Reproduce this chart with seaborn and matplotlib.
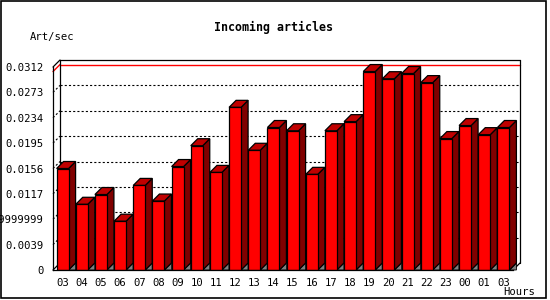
import numpy as np
import pandas as pd
import matplotlib
matplotlib.use("Agg")
import matplotlib.pyplot as plt
from matplotlib.patches import Polygon, Rectangle
from matplotlib.lines import Line2D
import seaborn as sns

# ---- data ----
hours = ["03", "04", "05", "06", "07", "08", "09", "10", "11", "12", "13", "14",
         "15", "16", "17", "18", "19", "20", "21", "22", "23", "00", "01", "03"]
art_per_sec = [0.0156, 0.0101, 0.0116, 0.0075, 0.0130, 0.0106, 0.0159, 0.0191,
               0.0150, 0.0250, 0.0184, 0.0219, 0.0214, 0.0147, 0.0214, 0.0228,
               0.0305, 0.0294, 0.0302, 0.0288, 0.0202, 0.0222, 0.0208, 0.0219]
y_ticks = [0, 0.0039, 0.0078, 0.0117, 0.0156, 0.0195, 0.0234, 0.0273, 0.0312]
y_tick_labels = ["0", "0.0039", "0.00779999999", "0.0117", "0.0156", "0.0195",
                 "0.0234", "0.0273", "0.0312"]
title = "Incoming articles"
y_label = "Art/sec"
x_label = "Hours"

sns.set_style("white")
plt.rcParams["font.family"] = ["DejaVu Sans Mono"]

W, H = 550, 300
fig = plt.figure(figsize=(W / 100, H / 100), dpi=100)
fig.patch.set_facecolor("white")

# front plot rectangle in pixels
L, R, B, T = 53, 513, 270, 67
ax = fig.add_axes([L / W, 1 - B / H, (R - L) / W, (B - T) / H])
ax.set_facecolor("none")

n = len(hours)
ymax = y_ticks[-1]
sx = n / (R - L)          # data units per pixel (x)
sy = ymax / (B - T)       # data units per pixel (y)
DEP = 7
dx, dy = DEP * sx, DEP * sy

df = pd.DataFrame({"slot": list(range(n)), "rate": art_per_sec})
sns.barplot(data=df, x="slot", y="rate", color="#FF0000", saturation=1,
            width=12 / 19.17, edgecolor="black", linewidth=0.9, ax=ax, zorder=5)

ax.set_xlim(-0.5, n - 0.5)
ax.set_ylim(0, ymax)

# 3D decorations derived from the bar patches
for p in list(ax.patches):
    x0, w, h = p.get_x(), p.get_width(), p.get_height()
    x1 = x0 + w
    floor = Polygon([(x1, 0), (x1 + dx, dy), (x1 + dx, 0)], closed=True,
                    facecolor="#808080", edgecolor="black", lw=0.6, zorder=4)
    side = Polygon([(x1, 0), (x1 + dx, dy), (x1 + dx, h + dy), (x1, h)], closed=True,
                   facecolor="#800000", edgecolor="black", lw=0.9, zorder=4)
    top = Polygon([(x0, h), (x0 + dx, h + dy), (x1 + dx, h + dy), (x1, h)], closed=True,
                  facecolor="#C00000", edgecolor="black", lw=0.9, zorder=4)
    for poly in (floor, side, top):
        poly.set_clip_on(False)
        ax.add_patch(poly)

xl, xr = -0.5, n - 0.5
def seg(xs, ys, **kw):
    ln = Line2D(xs, ys, clip_on=False, **kw)
    ax.add_line(ln)

# back wall gridlines (dotted) and left wall diagonals
dot = (0, (1.9, 1.9))
for v in y_ticks[1:-1]:
    seg([xl + dx, xr + dx], [v + dy, v + dy], color="black", lw=0.8,
        linestyle=dot, zorder=1)
    seg([xl, xl + dx], [v, v + dy], color="black", lw=0.8,
        linestyle=dot, zorder=1)

# max line in red
mx = max(art_per_sec)
seg([xl + dx, xr + dx], [mx + dy, mx + dy], color="#FF0000", lw=1.0, zorder=2)
seg([xl, xl + dx], [mx, mx + dy], color="#FF0000", lw=1.0, zorder=2)

# back wall frame
k = dict(color="black", lw=0.9, zorder=3)
seg([xl + dx, xr + dx], [ymax + dy, ymax + dy], **k)
seg([xl + dx, xl + dx], [dy, ymax + dy], **k)
seg([xr + dx, xr + dx], [dy, ymax + dy], **k)
seg([xl, xl + dx], [ymax, ymax + dy], **k)
seg([xr, xr + dx], [0, dy], **k)
seg([xl, xl + dx], [0, dy], **k)

# spines & ticks
for s in ("top", "right"):
    ax.spines[s].set_visible(False)
for s in ("left", "bottom"):
    ax.spines[s].set_color("black")
    ax.spines[s].set_linewidth(0.9)
    ax.spines[s].set_zorder(6)

ax.set_yticks(y_ticks, labels=y_tick_labels)
ax.set_xticks(range(n), labels=hours)
ax.set_xticks(np.arange(-0.5, n, 1.0), minor=True)
ax.tick_params(axis="x", which="major", length=0, pad=6, labelsize=7.6, colors="black")
ax.tick_params(axis="x", which="minor", length=3, width=0.8, direction="out", color="black")
ax.tick_params(axis="y", which="major", length=3, width=0.8, direction="out",
               pad=4, labelsize=7.6, colors="black")
ax.set_xlabel("")
ax.set_ylabel("")

fig.text(274 / W, 1 - 27 / H, title, ha="center", va="center",
         fontsize=8.4, fontweight="bold", color="black")
fig.text(30 / W, 1 - 37 / H, y_label, ha="left", va="center", fontsize=7.6, color="black")
fig.text(535 / W, 1 - 292 / H, x_label, ha="right", va="center", fontsize=7.6, color="black")

# outer frame
fig.add_artist(Rectangle((0.5 / W, 1 - 297.5 / H), 545 / W, 297 / H, transform=fig.transFigure,
                         fill=False, edgecolor="black", lw=1.2))

fig.savefig("out.png", dpi=100)
